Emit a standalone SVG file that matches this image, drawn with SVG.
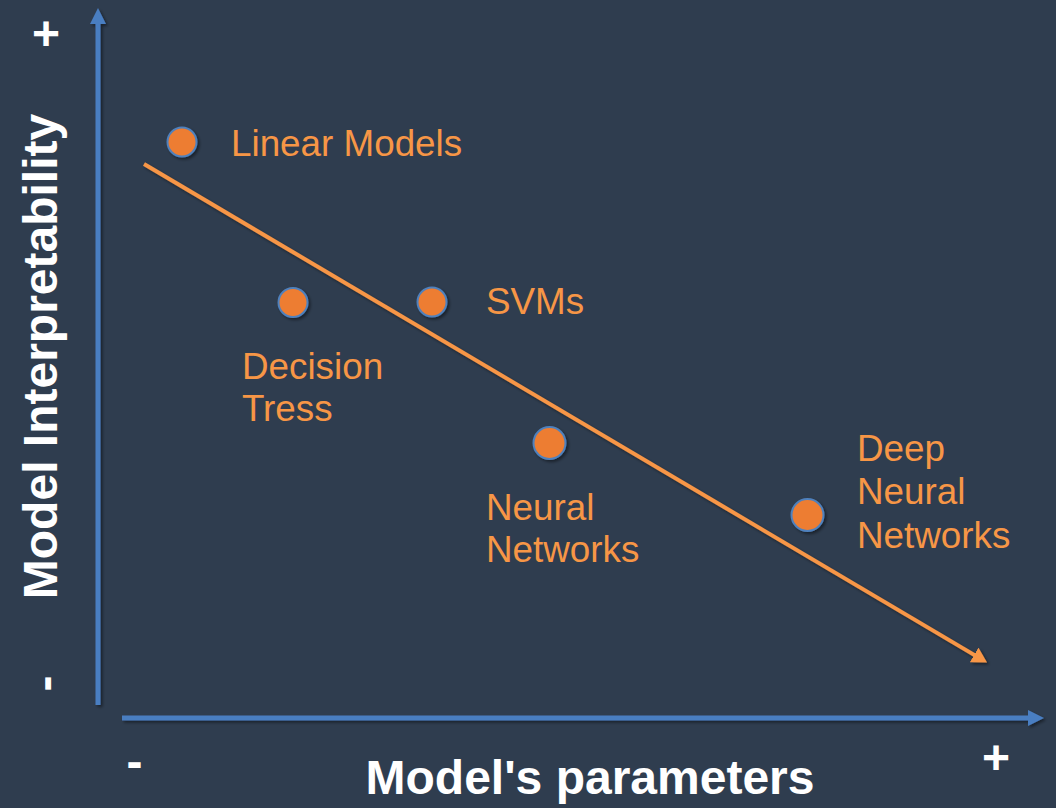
<svg xmlns="http://www.w3.org/2000/svg" width="1056" height="808" viewBox="0 0 1056 808">
  <style>
    .bg { fill: #2F3D4F; }
    .axis { stroke: #4A7EC1; stroke-width: 5; fill: none; }
    .trend { stroke: #F79646; stroke-width: 4; fill: none; }
    .dot { fill: #ED7D31; stroke: #4F81BD; stroke-width: 2; }
    .label { font-family: "Liberation Sans", Arial, sans-serif; font-size: 36.8px; fill: #F79646; }
    .title { font-family: "Liberation Sans", Arial, sans-serif; font-size: 48px; font-weight: bold; fill: #FFFFFF; }
    .sign { font-family: "Liberation Sans", Arial, sans-serif; font-size: 48px; font-weight: bold; fill: #FFFFFF; text-anchor: middle; }
  </style>
  <defs>
    <filter id="shadow" x="-20%" y="-20%" width="140%" height="140%">
      <feDropShadow dx="2" dy="2" stdDeviation="1.5" flood-color="#000000" flood-opacity="0.45"/>
    </filter>
    <marker id="head-blue" markerUnits="userSpaceOnUse" markerWidth="17" markerHeight="17" refX="1" refY="8" orient="auto">
      <path d="M0,0 L16,8 L0,16 z" fill="#4A7EC1"/>
    </marker>
    <marker id="head-orange" markerUnits="userSpaceOnUse" markerWidth="17" markerHeight="18" refX="1" refY="8.5" orient="auto">
      <path d="M0,0 L15,8.5 L0,17 z" fill="#F79646"/>
    </marker>
  </defs>

  <rect class="bg" x="0" y="0" width="1056" height="808"/>

  <!-- axes and trend line -->
  <g id="connectors" filter="url(#shadow)">
    <line id="y-axis" class="axis" x1="98" y1="705" x2="98" y2="23" marker-end="url(#head-blue)"/>
    <line id="x-axis" class="axis" x1="122" y1="718" x2="1029" y2="718" marker-end="url(#head-blue)"/>
    <line id="trend" class="trend" x1="144" y1="164" x2="975" y2="655.4" marker-end="url(#head-orange)"/>
  </g>

  <!-- axis titles and end signs -->
  <g id="axis-labels">
    <text class="title" text-anchor="middle" transform="translate(57,356.5) rotate(-90)">Model Interpretability</text>
    <text class="title" x="590" y="794" text-anchor="middle">Model's parameters</text>
    <text class="sign" x="46" y="50">+</text>
    <text class="sign" transform="translate(61,683.5) rotate(-90)">-</text>
    <text class="sign" x="134.5" y="778">-</text>
    <text class="sign" x="996" y="774">+</text>
  </g>

  <g id="linear-models">
    <circle class="dot" cx="182" cy="142" r="14.5" filter="url(#shadow)"/>
    <text class="label" x="231" y="156">Linear Models</text>
  </g>

  <g id="decision-trees">
    <circle class="dot" cx="293" cy="302.5" r="14.5" filter="url(#shadow)"/>
    <text class="label" x="242" y="379">Decision</text>
    <text class="label" x="242" y="421">Tress</text>
  </g>

  <g id="svms">
    <circle class="dot" cx="432" cy="302" r="14.5" filter="url(#shadow)"/>
    <text class="label" x="486" y="314">SVMs</text>
  </g>

  <g id="neural-networks">
    <circle class="dot" cx="549.5" cy="443" r="16" filter="url(#shadow)"/>
    <text class="label" x="486" y="520">Neural</text>
    <text class="label" x="486" y="562">Networks</text>
  </g>

  <g id="deep-neural-networks">
    <circle class="dot" cx="807.5" cy="515" r="16" filter="url(#shadow)"/>
    <text class="label" x="857" y="461">Deep</text>
    <text class="label" x="857" y="504">Neural</text>
    <text class="label" x="857" y="548">Networks</text>
  </g>
</svg>
